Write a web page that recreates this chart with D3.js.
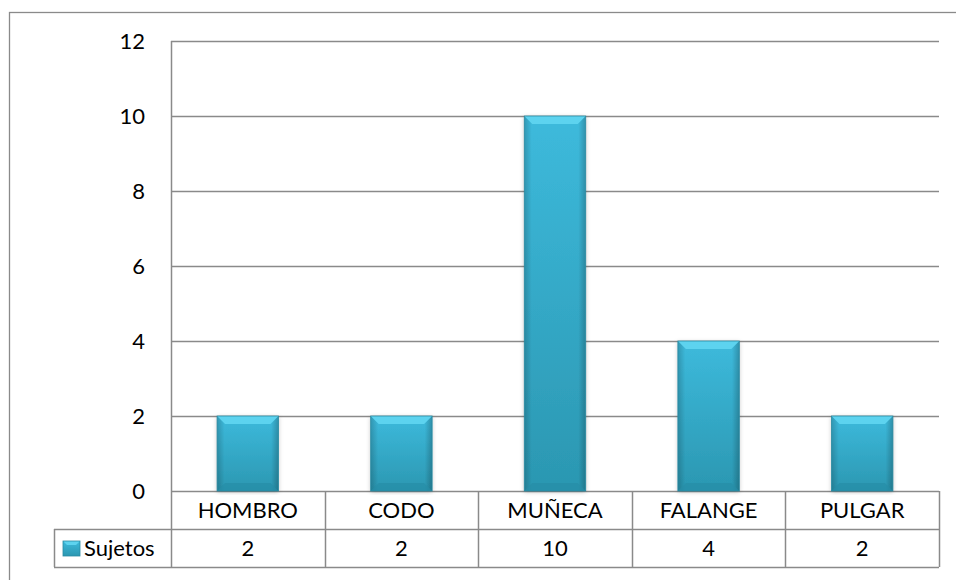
<!DOCTYPE html>
<html>
<head>
<meta charset="utf-8">
<title>Sujetos</title>
<style>
  body { margin: 0; background: #fff; }
  svg { display: block; font-family: Lato, "Open Sans", sans-serif; }
</style>
</head>
<body>
<div id="chart"></div>
<script src="https://d3js.org/d3.v7.min.js"></script>
<script>
const categories = ['HOMBRO', 'CODO', 'MUÑECA', 'FALANGE', 'PULGAR'];
const sujetos = [2, 2, 10, 4, 2];
const yTicks = [0, 2, 4, 6, 8, 10, 12];
const seriesName = 'Sujetos';

const width = 956, height = 580;
const plot = { left: 171, right: 939, top: 41, bottom: 491 };
const rowH = 38;
const legendLeft = 54;
const gridColor = '#8a8a8a';
const fontSize = 22;

const svg = d3.select('#chart').append('svg')
  .attr('width', width)
  .attr('height', height);

const defs = svg.append('defs');

// body gradient of bars: lighter at top, darker at bottom
const body = defs.append('linearGradient').attr('id', 'barBody')
  .attr('x1', 0).attr('y1', 0).attr('x2', 0).attr('y2', 1);
body.append('stop').attr('offset', '0%').attr('stop-color', '#3dbadc');
body.append('stop').attr('offset', '100%').attr('stop-color', '#2b97b1');

const side = defs.append('linearGradient').attr('id', 'barSide')
  .attr('x1', 0).attr('y1', 0).attr('x2', 1).attr('y2', 0);
side.append('stop').attr('offset', '0%').attr('stop-color', '#000').attr('stop-opacity', 0.18);
side.append('stop').attr('offset', '12%').attr('stop-color', '#000').attr('stop-opacity', 0);
side.append('stop').attr('offset', '88%').attr('stop-color', '#000').attr('stop-opacity', 0);
side.append('stop').attr('offset', '100%').attr('stop-color', '#000').attr('stop-opacity', 0.22);

const shadow = defs.append('filter').attr('id', 'shadow')
  .attr('x', '-20%').attr('y', '-5%').attr('width', '140%').attr('height', '110%');
shadow.append('feDropShadow').attr('dx', 0).attr('dy', 1).attr('stdDeviation', 2)
  .attr('flood-color', '#000').attr('flood-opacity', 0.25);

// outer frame
svg.append('rect')
  .attr('x', 9.5).attr('y', 12.5)
  .attr('width', 960).attr('height', 600)
  .attr('fill', 'none').attr('stroke', gridColor).attr('stroke-width', 1.3);

const x = d3.scaleBand()
  .domain(categories)
  .range([plot.left, plot.right])
  .paddingInner(0)
  .paddingOuter(0);

const y = d3.scaleLinear()
  .domain([0, 12])
  .range([plot.bottom, plot.top]);

// gridlines
svg.append('g')
  .selectAll('line')
  .data(yTicks)
  .join('line')
    .attr('x1', plot.left).attr('x2', plot.right)
    .attr('y1', d => Math.round(y(d)) + 0.5).attr('y2', d => Math.round(y(d)) + 0.5)
    .attr('stroke', gridColor).attr('stroke-width', 1.5);

// y axis
const yAxis = d3.axisLeft(y).tickValues(yTicks).tickSize(0).tickPadding(26);
const gy = svg.append('g')
  .attr('transform', `translate(${plot.left},0)`)
  .call(yAxis);
gy.select('.domain').remove();
gy.selectAll('text').attr('font-size', fontSize).attr('fill', '#000')
  .attr('font-family', 'Lato, "Open Sans", sans-serif');
svg.append('line')
  .attr('x1', plot.left + 0.5).attr('x2', plot.left + 0.5)
  .attr('y1', plot.top).attr('y2', plot.bottom + rowH * 2)
  .attr('stroke', gridColor).attr('stroke-width', 1.5);

// bars
const barW = x.bandwidth() / 2.5;
const bev = 8;
const bars = svg.append('g')
  .selectAll('g')
  .data(categories.map((c, i) => ({ c, v: sujetos[i] })))
  .join('g')
    .attr('transform', d => `translate(${x(d.c) + (x.bandwidth() - barW) / 2},${y(d.v)})`);

bars.append('rect')
  .attr('width', barW)
  .attr('height', d => y(0) - y(d.v))
  .attr('fill', 'url(#barBody)')
  .attr('filter', 'url(#shadow)');
bars.append('rect')
  .attr('width', barW)
  .attr('height', d => y(0) - y(d.v))
  .attr('fill', 'url(#barSide)');
// top bevel
bars.append('path')
  .attr('d', `M0,0 L${barW},0 L${barW - bev},${bev} L${bev},${bev} Z`)
  .attr('fill', '#5dd3ef');
// bottom bevel
bars.append('path')
  .attr('d', d => {
    const h = y(0) - y(d.v);
    return `M0,${h} L${barW},${h} L${barW - bev},${h - bev} L${bev},${h - bev} Z`;
  })
  .attr('fill', '#268da6').attr('opacity', 0.7);
bars.append('rect')
  .attr('width', barW)
  .attr('height', d => y(0) - y(d.v))
  .attr('fill', 'none').attr('stroke', '#2a8aa2').attr('stroke-width', 0.8);

// data table
const table = svg.append('g');
const r1 = plot.bottom, r2 = plot.bottom + rowH, r3 = plot.bottom + rowH * 2;
table.append('line').attr('x1', legendLeft).attr('x2', plot.right)
  .attr('y1', r2 + 0.5).attr('y2', r2 + 0.5);
table.append('line').attr('x1', legendLeft).attr('x2', plot.right)
  .attr('y1', r3 + 0.5).attr('y2', r3 + 0.5);
table.append('line').attr('x1', legendLeft + 0.5).attr('x2', legendLeft + 0.5)
  .attr('y1', r2).attr('y2', r3);
table.selectAll('line.col')
  .data(categories)
  .join('line')
    .attr('class', 'col')
    .attr('x1', d => Math.round(x(d) + x.bandwidth()) + 0.5)
    .attr('x2', d => Math.round(x(d) + x.bandwidth()) + 0.5)
    .attr('y1', r1).attr('y2', r3);
table.selectAll('line').attr('stroke', gridColor).attr('stroke-width', 1.5);

table.selectAll('text.cat')
  .data(categories)
  .join('text')
    .attr('class', 'cat')
    .attr('x', d => x(d) + x.bandwidth() / 2)
    .attr('y', r1 + rowH / 2 + 8)
    .attr('text-anchor', 'middle')
    .attr('font-size', fontSize)
    .text(d => d);

table.selectAll('text.val')
  .data(sujetos)
  .join('text')
    .attr('class', 'val')
    .attr('x', (d, i) => x(categories[i]) + x.bandwidth() / 2)
    .attr('y', r2 + rowH / 2 + 8)
    .attr('text-anchor', 'middle')
    .attr('font-size', fontSize)
    .text(d => d);

// legend key
const key = table.append('g').attr('transform', `translate(63,541)`);
key.append('rect').attr('width', 17).attr('height', 15).attr('fill', 'url(#barBody)');
key.append('path').attr('d', 'M0,0 L17,0 L13,4 L4,4 Z').attr('fill', '#5dd3ef');
key.append('rect').attr('width', 17).attr('height', 15)
  .attr('fill', 'none').attr('stroke', '#2a8aa2').attr('stroke-width', 0.8);
table.append('text')
  .attr('x', 84).attr('y', r2 + rowH / 2 + 8)
  .attr('font-size', fontSize)
  .text(seriesName);
</script>
</body>
</html>
